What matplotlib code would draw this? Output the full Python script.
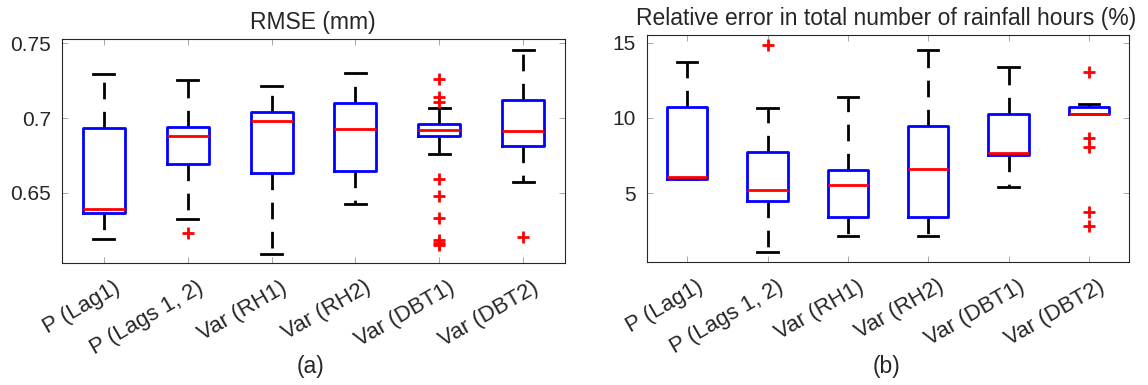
import matplotlib
matplotlib.use("Agg")
import matplotlib.pyplot as plt
from matplotlib.transforms import ScaledTranslation

plt.rcParams['font.family'] = ['Liberation Sans', 'DejaVu Sans']

categories = ["P (Lag1)", "P (Lags 1, 2)", "Var (RH1)", "Var (RH2)", "Var (DBT1)", "Var (DBT2)"]

# (a) RMSE (mm): box-plot summary statistics per predictor set
rmse_whislo = [0.6191, 0.6325, 0.6093, 0.6427, 0.6760, 0.6575]
rmse_q1     = [0.6365, 0.6691, 0.6631, 0.6645, 0.6880, 0.6813]
rmse_med    = [0.6393, 0.6880, 0.6982, 0.6924, 0.6920, 0.6915]
rmse_q3     = [0.6931, 0.6942, 0.7042, 0.7102, 0.6958, 0.7120]
rmse_whishi = [0.7293, 0.7253, 0.7213, 0.7302, 0.7065, 0.7453]
rmse_fliers = [[], [0.6235], [], [],
               [0.7260, 0.7142, 0.7109, 0.6591, 0.6480, 0.6331, 0.6187, 0.6168, 0.6153],
               [0.6209]]

# (b) Relative error in total number of rainfall hours (%)
hours_whislo = [5.94, 1.13, 2.19, 2.17, 5.40, 10.27]
hours_q1     = [5.94, 4.50, 3.45, 3.41, 7.55, 10.27]
hours_med    = [6.11, 5.23, 5.56, 6.62, 7.70, 10.27]
hours_q3     = [10.75, 7.77, 6.55, 9.47, 10.25, 10.75]
hours_whishi = [13.74, 10.65, 11.42, 14.52, 13.41, 10.93]
hours_fliers = [[], [14.85], [], [], [], [13.08, 8.66, 8.10, 3.79, 2.86]]

panel_titles = ["RMSE (mm)", "Relative error in total number of rainfall hours (%)"]
panel_tags = ["(a)", "(b)"]
rmse_ticks = [0.65, 0.70, 0.75]
rmse_ticklabels = ["0.65", "0.7", "0.75"]
hours_ticks = [5, 10, 15]
hours_ticklabels = ["5", "10", "15"]


def make_stats(whislo, q1, med, q3, whishi, fliers):
    return [dict(whislo=a, q1=b, med=c, q3=d, whishi=e, fliers=f, label=lab)
            for a, b, c, d, e, f, lab in zip(whislo, q1, med, q3, whishi, fliers, categories)]


W, H = 1148, 385
fig = plt.figure(figsize=(W / 100, H / 100), dpi=100)

ax_a = fig.add_axes([62 / W, 1 - 263 / H, (565 - 62) / W, (263 - 39) / H])
ax_b = fig.add_axes([647 / W, 1 - 262 / H, (1129 - 647) / W, (262 - 35) / H])

frame_col = (0.15, 0.15, 0.15)
lw = 2.0

panels = [
    (ax_a, make_stats(rmse_whislo, rmse_q1, rmse_med, rmse_q3, rmse_whishi, rmse_fliers),
     (0.6033, 0.7527), rmse_ticks, rmse_ticklabels),
    (ax_b, make_stats(hours_whislo, hours_q1, hours_med, hours_q3, hours_whishi, hours_fliers),
     (0.45, 15.5), hours_ticks, hours_ticklabels),
]

# shift rotated category labels slightly to the right of their ticks
label_shift = ScaledTranslation(9 / 100, 0, fig.dpi_scale_trans)

for ax, stats, ylim, yt, ytl in panels:
    ax.bxp(stats, widths=0.5, capwidths=0.25, showfliers=True,
           boxprops=dict(color='blue', linewidth=lw, zorder=3),
           medianprops=dict(color='red', linewidth=lw, zorder=4),
           whiskerprops=dict(color='black', linewidth=lw, linestyle=(0, (6, 4.5)), zorder=2),
           capprops=dict(color='black', linewidth=lw, zorder=2),
           flierprops=dict(marker='+', markeredgecolor='red', markersize=8,
                           markeredgewidth=2, linestyle='none', zorder=5))
    ax.set_xlim(0.5, 6.5)
    ax.set_ylim(*ylim)
    ax.set_yticks(yt)
    ax.set_yticklabels(ytl)
    ax.set_xticks(range(1, len(categories) + 1))
    ax.set_xticklabels(categories, rotation=30, ha='right', va='top',
                       rotation_mode='anchor')
    ax.tick_params(direction='in', length=4, width=0.6, color=(0.6, 0.6, 0.6),
                   labelcolor=frame_col, top=True, right=True)
    ax.tick_params(axis='x', pad=10, labelsize=16)
    ax.tick_params(axis='y', pad=8, labelsize=15)
    for tick in ax.xaxis.get_major_ticks():
        tick.label1.set_transform(tick.label1.get_transform() + label_shift)
    for s in ax.spines.values():
        s.set_color(frame_col)
        s.set_linewidth(0.8)

fig.text(313 / W, 1 - 23 / H, panel_titles[0], ha='center', va='center',
         fontsize=16.5, color=frame_col)
fig.text(886 / W, 1 - 18 / H, panel_titles[1], ha='center', va='center',
         fontsize=16.5, color=frame_col)
fig.text(311 / W, 1 - 366 / H, panel_tags[0], ha='center', va='center',
         fontsize=16.5, color=frame_col)
fig.text(886 / W, 1 - 366 / H, panel_tags[1], ha='center', va='center',
         fontsize=16.5, color=frame_col)

fig.savefig("out.png", dpi=100, facecolor='white')
